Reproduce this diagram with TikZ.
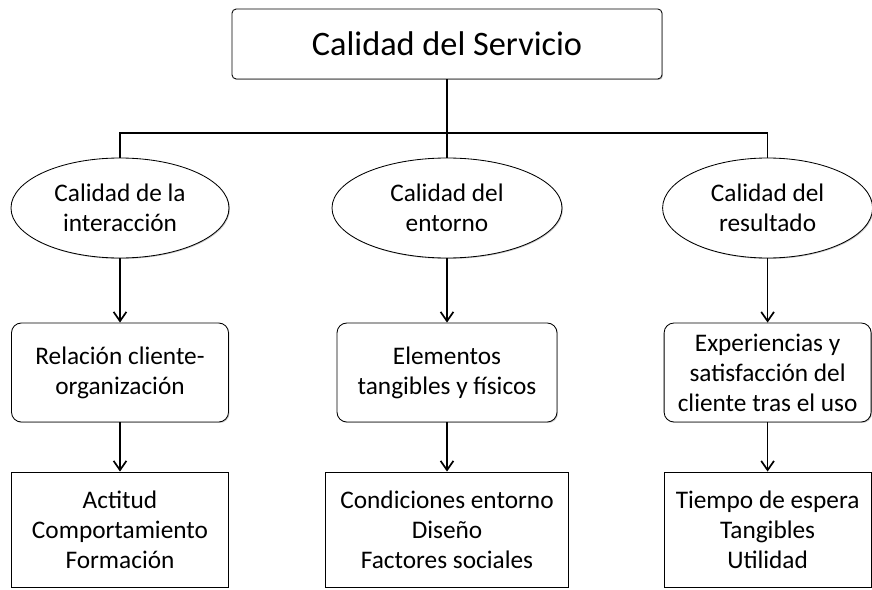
\documentclass[tikz,border=0pt]{standalone}
\usepackage{fontspec}
\setmainfont{Carlito}
\usetikzlibrary{arrows.meta,shapes.geometric,shadows}

\begin{document}
\begin{tikzpicture}[
    >={Straight Barb[length=2.3mm,width=3.2mm]},
    every node/.style={font=\fontsize{18}{21.3}\selectfont, align=center, inner sep=0pt},
    softshadow/.style={drop shadow={shadow xshift=0.7pt, shadow yshift=-0.7pt, opacity=0.35, fill=black!60}},
    raiz/.style={draw, rounded corners=3pt, line width=0.6pt, fill=white, softshadow,
                 minimum width=10.75cm, minimum height=1.75cm, font=\fontsize{24.4}{28}\selectfont},
    dimension/.style={ellipse, draw, line width=0.6pt, fill=white, softshadow, minimum height=2.5cm},
    factor/.style={draw, rounded corners=7pt, line width=0.6pt, fill=white, softshadow, minimum height=2.475cm},
    atributo/.style={draw, line width=0.6pt, fill=white, softshadow, minimum height=2.875cm},
    tree/.style={line width=1.2pt},
    conn/.style={->, line width=1.2pt}
  ]

    \useasboundingbox (0,0) rectangle (21.8,-14.725);

    %=== X (columnas) ===%
    \def\xa{3.0}
    \def\xb{11.175}
    \def\xc{19.19}

    %=== Y (filas) ===%
    \def\ydim{-5.2}
    \def\yfac{-9.3125}
    \def\yatr{-13.2375}

    %=== nodo raiz ===%
    \node[raiz] (top) at (\xb, -1.1) {Calidad del Servicio};

    %=== dimensiones (elipses) ===%
    \node[dimension, minimum width=5.45cm] (e1) at (\xa, \ydim) {Calidad de la\\interacción};
    \node[dimension, minimum width=5.75cm] (e2) at (\xb, \ydim) {Calidad del\\entorno};
    \node[dimension, minimum width=5.25cm] (e3) at (\xc, \ydim) {Calidad del\\resultado};

    %=== factores ===%
    \node[factor, minimum width=5.425cm] (f1) at (\xa, \yfac) {Relación cliente-\\organización};
    \node[factor, minimum width=5.5cm]   (f2) at (\xb, \yfac) {Elementos\\tangibles y físicos};
    \node[factor, minimum width=5.175cm] (f3) at (\xc, \yfac) {Experiencias y\\satisfacción del\\cliente tras el uso};

    %=== atributos ===%
    \node[atributo, minimum width=5.425cm] (a1) at (\xa, \yatr) {Actitud\\Comportamiento\\Formación};
    \node[atributo, minimum width=6.075cm] (a2) at (\xb, \yatr) {Condiciones entorno\\Diseño\\Factores sociales};
    \node[atributo, minimum width=5.175cm] (a3) at (\xc, \yatr) {Tiempo de espera\\Tangibles\\Utilidad};

    %=== arbol superior ===%
    \coordinate (bar) at (\xb, -3.325);
    \draw[tree] (top) -- (e2);
    \draw[tree] (e1.north) |- (e3.north |- bar) -- (e3.north);

    %=== flechas ===%
    \foreach \i in {1,2,3}{
      \draw[conn] (e\i) -- (f\i);
      \draw[conn] (f\i) -- (a\i);
    }

  \end{tikzpicture}
\end{document}
